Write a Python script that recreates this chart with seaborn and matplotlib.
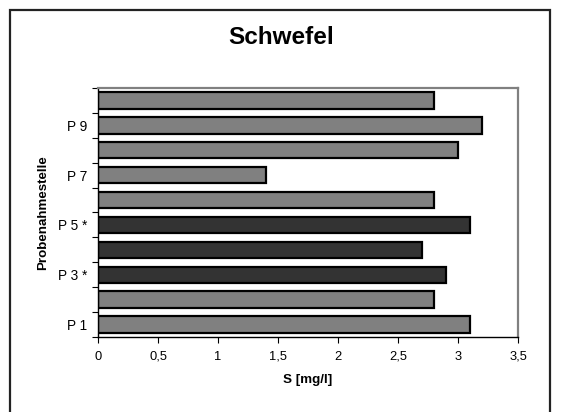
import matplotlib
matplotlib.use("Agg")
import matplotlib.pyplot as plt
import seaborn as sns
import pandas as pd
from matplotlib.patches import Rectangle
from matplotlib.ticker import FixedLocator

# Daten: Probenahmestellen P1..P10 (von unten nach oben)
stellen = ["P1", "P2", "P3", "P4", "P5", "P6", "P7", "P8", "P9", "P10"]
schwefel = [3.1, 2.8, 2.9, 2.7, 3.1, 2.8, 1.4, 3.0, 3.2, 2.8]
markiert = [False, False, True, True, True, False, False, False, False, False]
tick_labels = ["P 1", "", "P 3 *", "", "P 5 *", "", "P 7", "", "P 9", ""]

df = pd.DataFrame({"stelle": stellen, "S": schwefel, "gruppe": ["mark" if m else "normal" for m in markiert]})

sns.set_theme(style="white", rc={"text.color": "black", "axes.labelcolor": "black",
                                 "xtick.color": "black", "ytick.color": "black"})
plt.rcParams["font.family"] = ["Liberation Sans", "DejaVu Sans"]

fig = plt.figure(figsize=(5.62, 4.12), dpi=100)
ax = fig.add_axes([98 / 562, 1 - 337 / 412, 420 / 562, 249 / 412])

sns.barplot(data=df, x="S", y="stelle", hue="gruppe", order=stellen,
            palette={"normal": "#808080", "mark": "#333333"},
            dodge=False, width=0.66, edgecolor="black", linewidth=1.6,
            legend=False, ax=ax)

ax.set_ylim(-0.5, len(stellen) - 0.5)
ax.set_xlim(0, 3.5)

ax.set_xticks([0, 0.5, 1, 1.5, 2, 2.5, 3, 3.5])
ax.set_xticklabels(["0", "0,5", "1", "1,5", "2", "2,5", "3", "3,5"], fontsize=9.3)
ax.tick_params(axis="x", direction="out", length=4, width=0.8, color="black", bottom=True, pad=6)

ax.set_yticks(range(len(stellen)))
ax.set_yticklabels(tick_labels, fontsize=9.8)
ax.yaxis.set_minor_locator(FixedLocator([i - 0.5 for i in range(len(stellen) + 1)]))
ax.tick_params(axis="y", which="major", length=0, pad=8)
ax.tick_params(axis="y", which="minor", direction="out", length=4, width=0.8, color="black", left=True)

for side in ["left", "bottom"]:
    ax.spines[side].set_color("black")
    ax.spines[side].set_linewidth(1.0)
for side in ["top", "right"]:
    ax.spines[side].set_visible(True)
    ax.spines[side].set_color("#808080")
    ax.spines[side].set_linewidth(1.6)

ax.set_xlabel("S [mg/l]", fontsize=9.6, fontweight="bold", labelpad=8)
ax.set_ylabel("Probenahmestelle", fontsize=9.6, fontweight="bold", labelpad=6)

fig.text(0.5, 1 - 38 / 412, "Schwefel", ha="center", va="center", fontsize=17.5, fontweight="bold")

# Rahmen um das Diagramm (unten abgeschnitten)
fig.patches.append(Rectangle((10 / 562, -0.05), 540 / 562, 1.05 - 10 / 412,
                             transform=fig.transFigure, fill=False,
                             edgecolor="#222222", linewidth=1.6))

fig.savefig("out.png", dpi=100)
